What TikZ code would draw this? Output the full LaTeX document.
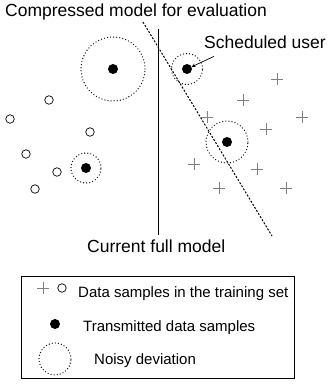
\documentclass[tikz,border=0pt]{standalone}
\usepackage{fontspec}
\setmainfont{Liberation Sans}
\usetikzlibrary{shapes.misc}

\begin{document}
\begin{tikzpicture}[>=stealth, x=1pt, y=-1pt]

\tikzset{%
every sample/.style={
circle,
draw,
inner sep=0pt,
minimum size=8.5pt,
line width=0.7pt
},
sent sample/.style={
circle,
fill,
inner sep=0pt,
minimum size=10pt
},
plus sample/.style={
cross out,
draw=gray,
rotate=45,
inner sep=0pt,
minimum size=7.5pt,
line width=0.6pt
},
noise ring/.style={
circle,
draw,
inner sep=0pt,
line width=1.3pt,
line cap=round,
dash pattern=on 0pt off 3.1pt
},
label text/.style={anchor=base west, inner sep=0pt, font=\fontsize{17.5}{20}\selectfont},
legend text/.style={anchor=base west, inner sep=0pt, font=\fontsize{15}{18}\selectfont},
}

\useasboundingbox (0,0) rectangle (331,384);

% Samples of the first class
\foreach \x/\y [count=\i] in {49/100, 10/119, 90/132, 26/154, 57/172, 35/189}
\node [every sample] (circ-\i) at (\x,\y) {};

% Samples of the second class
\foreach \x/\y [count=\i] in {277/79, 243/100, 302/117, 207/117, 266/129, 194/164, 257/169, 219/188, 286/188}
\node [plus sample] (plus-\i) at (\x,\y) {};

% Transmitted samples with their noisy deviation
\foreach \x/\y/\r [count=\i] in {113/69/64pt, 187/69/31pt, 227/142/42pt, 86/168/30pt}
{
\node [sent sample] (sent-\i) at (\x,\y) {};
\node [noise ring, minimum size=\r] (ring-\i) at (\x,\y) {};
}

% Current full model boundary
\coordinate (full-top) at (158,29);
\coordinate (full-bot) at (158,235);
\draw [line width=0.9pt] (full-top) -- (full-bot);
\node [label text] (full-lbl) at (87,252) {Current full model};

% Compressed model boundary
\coordinate (comp-top) at (143,22);
\coordinate (comp-bot) at (272,236);
\draw [line width=1pt, dash pattern=on 2pt off 1.6pt] (comp-top) -- (comp-bot);
\node [label text] (comp-lbl) at (5,16) {Compressed model for evaluation};

% Scheduled user and arrow
\node [label text] (sched-lbl) at (204,48) {Scheduled user};
\draw [->, line width=0.7pt] ([xshift=10pt,yshift=-8pt]sched-lbl.south west) -- (sent-2);

% Legend
\node [draw, line width=0.8pt, minimum width=273pt, minimum height=102pt, inner sep=0pt] (legend) at (157.5,327) {};
\node [plus sample] (key-plus) at (43,288) {};
\node [every sample] (key-circ) at (62,288) {};
\node [legend text] (key-1) at (78,297) {Data samples in the training set};
\node [sent sample] (key-sent) at (55,324) {};
\node [legend text] (key-2) at (83,331) {Transmitted data samples};
\node [noise ring, minimum size=32pt] (key-ring) at (55,359) {};
\node [legend text] (key-3) at (94,364) {Noisy deviation};

\end{tikzpicture}
\end{document}
